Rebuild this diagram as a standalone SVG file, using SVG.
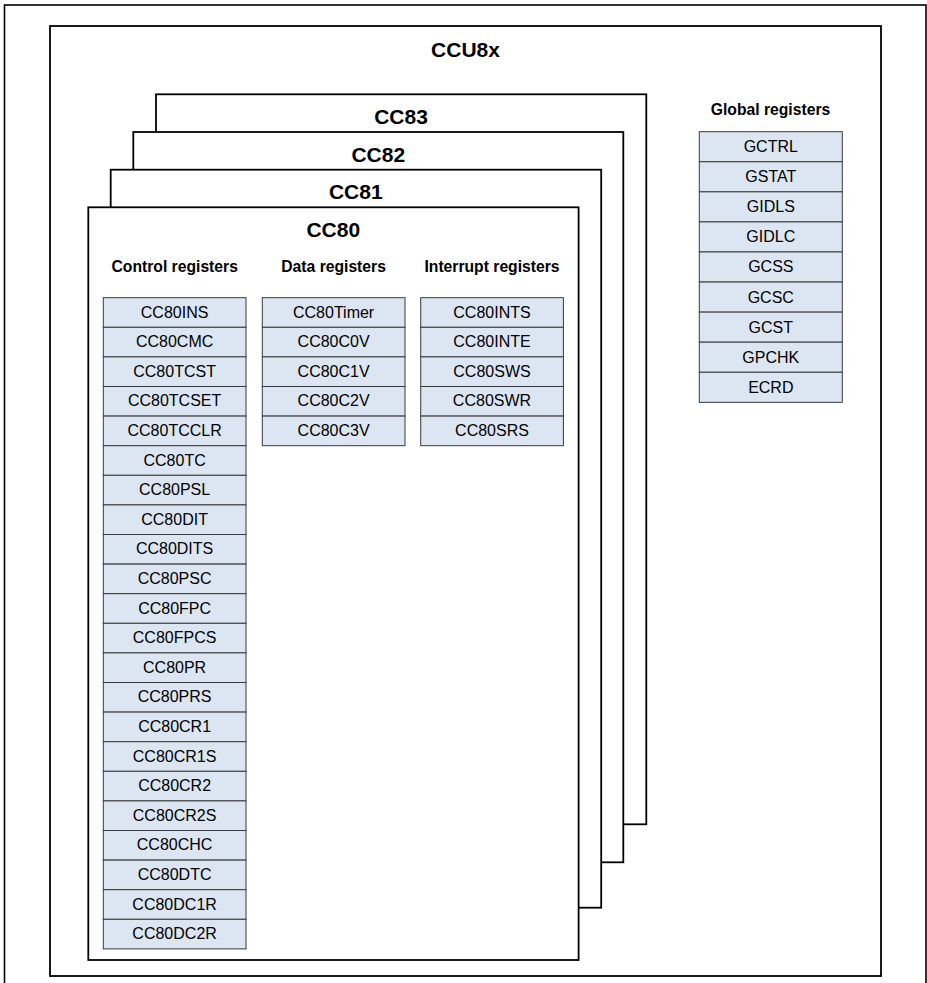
<svg xmlns="http://www.w3.org/2000/svg" width="927" height="983" viewBox="0 0 927 983">
<style>
.frame{fill:#fff;stroke:#000;stroke-width:1.6}
.card{fill:#fff;stroke:#000;stroke-width:1.8}
.reg{fill:#dce6f2;stroke:#3a3a3a;stroke-width:1}
.t{font-family:"Liberation Sans",Arial,sans-serif;font-size:16px;fill:#000;text-anchor:middle}
.h{font-family:"Liberation Sans",Arial,sans-serif;font-size:15.7px;font-weight:bold;fill:#000;text-anchor:middle}
.ti{font-family:"Liberation Sans",Arial,sans-serif;font-size:21px;font-weight:bold;fill:#000;text-anchor:middle}
</style>
<rect x="0" y="0" width="927" height="983" fill="#fff"/>
<g id="outer"><rect class="frame" x="4.5" y="5" width="921.5" height="1000"/></g>
<g id="CCU8x">
<rect class="card" x="50" y="26" width="831" height="950"/>
<text class="ti" x="465.5" y="56.7">CCU8x</text>
</g>
<g id="CC83">
<rect class="card" x="156" y="94.3" width="490.3" height="730"/>
<text class="ti" x="401" y="124">CC83</text>
</g>
<g id="CC82">
<rect class="card" x="133.3" y="132" width="490" height="730.3"/>
<text class="ti" x="378.3" y="161.7">CC82</text>
</g>
<g id="CC81">
<rect class="card" x="110.7" y="169.7" width="490.5" height="738"/>
<text class="ti" x="355.8" y="199">CC81</text>
</g>
<g id="CC80">
<rect class="card" x="88.3" y="207.3" width="490.3" height="752.7"/>
<text class="ti" x="333.3" y="236.7">CC80</text>
</g>
<g id="control-registers">
<text class="h" x="174.7" y="271.7">Control registers</text>
<g transform="translate(103.3,297.7)">
<rect class="reg" x="0" y="0" width="142.7" height="29.6"/><text class="t" x="71.3" y="20">CC80INS</text>
<rect class="reg" x="0" y="29.6" width="142.7" height="29.6"/><text class="t" x="71.3" y="49.6">CC80CMC</text>
<rect class="reg" x="0" y="59.2" width="142.7" height="29.6"/><text class="t" x="71.3" y="79.2">CC80TCST</text>
<rect class="reg" x="0" y="88.8" width="142.7" height="29.6"/><text class="t" x="71.3" y="108.8">CC80TCSET</text>
<rect class="reg" x="0" y="118.4" width="142.7" height="29.6"/><text class="t" x="71.3" y="138.4">CC80TCCLR</text>
<rect class="reg" x="0" y="148" width="142.7" height="29.6"/><text class="t" x="71.3" y="168">CC80TC</text>
<rect class="reg" x="0" y="177.6" width="142.7" height="29.6"/><text class="t" x="71.3" y="197.6">CC80PSL</text>
<rect class="reg" x="0" y="207.2" width="142.7" height="29.6"/><text class="t" x="71.3" y="227.2">CC80DIT</text>
<rect class="reg" x="0" y="236.8" width="142.7" height="29.6"/><text class="t" x="71.3" y="256.8">CC80DITS</text>
<rect class="reg" x="0" y="266.4" width="142.7" height="29.6"/><text class="t" x="71.3" y="286.4">CC80PSC</text>
<rect class="reg" x="0" y="296" width="142.7" height="29.6"/><text class="t" x="71.3" y="316">CC80FPC</text>
<rect class="reg" x="0" y="325.6" width="142.7" height="29.6"/><text class="t" x="71.3" y="345.6">CC80FPCS</text>
<rect class="reg" x="0" y="355.2" width="142.7" height="29.6"/><text class="t" x="71.3" y="375.2">CC80PR</text>
<rect class="reg" x="0" y="384.8" width="142.7" height="29.6"/><text class="t" x="71.3" y="404.8">CC80PRS</text>
<rect class="reg" x="0" y="414.4" width="142.7" height="29.6"/><text class="t" x="71.3" y="434.4">CC80CR1</text>
<rect class="reg" x="0" y="444" width="142.7" height="29.6"/><text class="t" x="71.3" y="464">CC80CR1S</text>
<rect class="reg" x="0" y="473.6" width="142.7" height="29.6"/><text class="t" x="71.3" y="493.6">CC80CR2</text>
<rect class="reg" x="0" y="503.2" width="142.7" height="29.6"/><text class="t" x="71.3" y="523.2">CC80CR2S</text>
<rect class="reg" x="0" y="532.8" width="142.7" height="29.6"/><text class="t" x="71.3" y="552.8">CC80CHC</text>
<rect class="reg" x="0" y="562.4" width="142.7" height="29.6"/><text class="t" x="71.3" y="582.4">CC80DTC</text>
<rect class="reg" x="0" y="592" width="142.7" height="29.6"/><text class="t" x="71.3" y="612">CC80DC1R</text>
<rect class="reg" x="0" y="621.6" width="142.7" height="29.6"/><text class="t" x="71.3" y="641.6">CC80DC2R</text>
</g>
</g>
<g id="data-registers">
<text class="h" x="333.6" y="271.7">Data registers</text>
<g transform="translate(262.3,297.7)">
<rect class="reg" x="0" y="0" width="142.7" height="29.6"/><text class="t" x="71.3" y="20">CC80Timer</text>
<rect class="reg" x="0" y="29.6" width="142.7" height="29.6"/><text class="t" x="71.3" y="49.6">CC80C0V</text>
<rect class="reg" x="0" y="59.2" width="142.7" height="29.6"/><text class="t" x="71.3" y="79.2">CC80C1V</text>
<rect class="reg" x="0" y="88.8" width="142.7" height="29.6"/><text class="t" x="71.3" y="108.8">CC80C2V</text>
<rect class="reg" x="0" y="118.4" width="142.7" height="29.6"/><text class="t" x="71.3" y="138.4">CC80C3V</text>
</g>
</g>
<g id="interrupt-registers">
<text class="h" x="492" y="271.7">Interrupt registers</text>
<g transform="translate(420.7,297.7)">
<rect class="reg" x="0" y="0" width="142.7" height="29.6"/><text class="t" x="71.3" y="20">CC80INTS</text>
<rect class="reg" x="0" y="29.6" width="142.7" height="29.6"/><text class="t" x="71.3" y="49.6">CC80INTE</text>
<rect class="reg" x="0" y="59.2" width="142.7" height="29.6"/><text class="t" x="71.3" y="79.2">CC80SWS</text>
<rect class="reg" x="0" y="88.8" width="142.7" height="29.6"/><text class="t" x="71.3" y="108.8">CC80SWR</text>
<rect class="reg" x="0" y="118.4" width="142.7" height="29.6"/><text class="t" x="71.3" y="138.4">CC80SRS</text>
</g>
</g>
<g id="global-registers">
<text class="h" x="770.5" y="115">Global registers</text>
<g transform="translate(699.3,131.7)">
<rect class="reg" x="0" y="0" width="143" height="30.07"/><text class="t" x="71.5" y="20.5">GCTRL</text>
<rect class="reg" x="0" y="30.07" width="143" height="30.07"/><text class="t" x="71.5" y="50.57">GSTAT</text>
<rect class="reg" x="0" y="60.14" width="143" height="30.07"/><text class="t" x="71.5" y="80.64">GIDLS</text>
<rect class="reg" x="0" y="90.21" width="143" height="30.07"/><text class="t" x="71.5" y="110.71">GIDLC</text>
<rect class="reg" x="0" y="120.28" width="143" height="30.07"/><text class="t" x="71.5" y="140.78">GCSS</text>
<rect class="reg" x="0" y="150.35" width="143" height="30.07"/><text class="t" x="71.5" y="170.85">GCSC</text>
<rect class="reg" x="0" y="180.42" width="143" height="30.07"/><text class="t" x="71.5" y="200.92">GCST</text>
<rect class="reg" x="0" y="210.49" width="143" height="30.07"/><text class="t" x="71.5" y="230.99">GPCHK</text>
<rect class="reg" x="0" y="240.56" width="143" height="30.07"/><text class="t" x="71.5" y="261.06">ECRD</text>
</g>
</g>
<g id="connectors"></g>
</svg>
